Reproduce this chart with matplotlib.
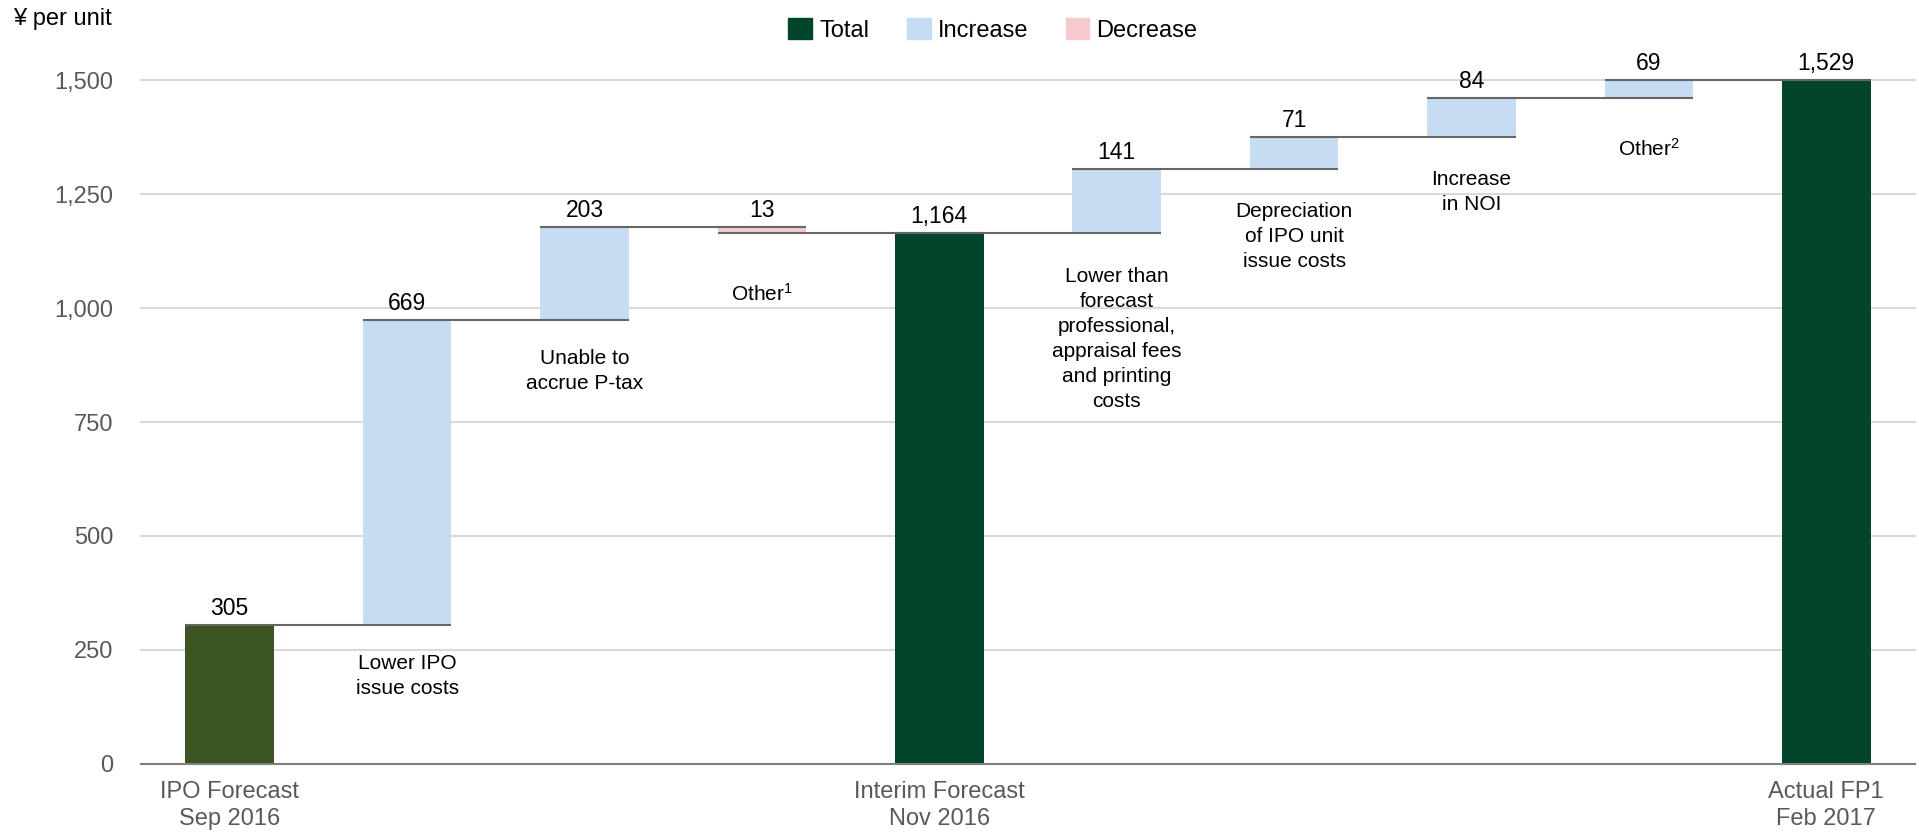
import matplotlib.pyplot as plt
from matplotlib.patches import Patch

plt.rcParams["font.family"] = ["Liberation Sans", "DejaVu Sans"]
plt.rcParams["mathtext.default"] = "regular"

# waterfall steps, left to right
steps = ["IPO Forecast\nSep 2016", "Lower IPO\nissue costs", "Unable to\naccrue P-tax",
         "Other$^1$", "Interim Forecast\nNov 2016",
         "Lower than\nforecast\nprofessional,\nappraisal fees\nand printing\ncosts",
         "Depreciation\nof IPO unit\nissue costs", "Increase\nin NOI", "Other$^2$",
         "Actual FP1\nFeb 2017"]
kinds = ["total", "increase", "increase", "decrease", "total",
         "increase", "increase", "increase", "increase", "total"]
values = [305, 669, 203, -13, 1164, 141, 71, 84, 69, 1529]
yticks = [0, 250, 500, 750, 1000, 1250, 1500]

# gap (px) between bar bottom and the step caption under it
caption_gap = [0, 29, 29, 50, 0, 34, 33, 33, 40, 0]

colors = {"total": "#03452A", "increase": "#C5DCF2", "decrease": "#F6C9D1"}
first_total = "#3A5422"
line_col = "#666666"
tick_col = "#595959"
PX = 0.72  # points per pixel at dpi 100
YMAX = 1500

fig = plt.figure(figsize=(19.19, 8.32), dpi=100)
ax = fig.add_axes([141 / 1919, 68 / 832, 1774 / 1919, 684 / 832])

width = 0.5
level = 0
tops = []
for i, (kind, v) in enumerate(zip(kinds, values)):
    if kind == "total":
        bottom, height = 0, v
        level = v
    elif kind == "increase":
        bottom, height = level, v
        level += v
    else:
        bottom, height = level + v, -v
        level += v
    tops.append(level)
    c = colors[kind]
    if i == 0:
        c = first_total
    ax.bar(i, height, bottom=bottom, width=width, color=c, zorder=2)
    # the value axis stops at 1,500, so labels sit on the clipped top
    ax.annotate(f"{abs(v):,}", (i, min(bottom + height, YMAX)), xytext=(0, 5 * PX),
                textcoords="offset points", ha="center", va="bottom",
                fontsize=16.5, color="black", zorder=4, annotation_clip=False)
    if kind != "total":
        ax.annotate(steps[i], (i, bottom), xytext=(0, -caption_gap[i] * PX),
                    textcoords="offset points", ha="center", va="top",
                    fontsize=15, color="black", linespacing=1.4)

# connectors from each bar to the next one
for i in range(len(values) - 1):
    y = min(tops[i], YMAX)
    ax.plot([i - width / 2, i + 1 + width / 2], [y, y],
            color=line_col, lw=1.5, zorder=3, solid_capstyle="butt", clip_on=False)

ax.set_xlim(-0.5, 9.5)
ax.set_ylim(0, YMAX)
ax.set_yticks(yticks)
ax.set_yticklabels([f"{t:,}" for t in yticks])
ax.set_xticks([0, 4, 9])
ax.set_xticklabels([steps[0], steps[4], steps[9]], linespacing=1.33)
ax.tick_params(axis="y", length=0, pad=20, labelsize=17, labelcolor=tick_col)
ax.tick_params(axis="x", length=0, pad=12, labelsize=17, labelcolor=tick_col)
ax.grid(axis="y", color="#D9D9D9", lw=1.5, zorder=0, clip_on=False)
ax.set_axisbelow(True)
for side in ["top", "right", "left"]:
    ax.spines[side].set_visible(False)
ax.spines["bottom"].set_color("#808080")
ax.spines["bottom"].set_linewidth(1.5)
ax.spines["bottom"].set_zorder(3)

handles = [Patch(color=colors["total"], label="Total"),
           Patch(color=colors["increase"], label="Increase"),
           Patch(color=colors["decrease"], label="Decrease")]
fig.legend(handles=handles, loc="center", bbox_to_anchor=(993 / 1919, 1 - 30 / 832),
           ncol=3, frameon=False, fontsize=17, handlelength=1.0, handleheight=1.0,
           handletextpad=0.3, columnspacing=1.6, borderpad=0)

fig.text(13 / 1919, 1 - 19 / 832, "¥ per unit", ha="left", va="center",
         fontsize=17, color="black")

fig.savefig("out.png", dpi=100)
